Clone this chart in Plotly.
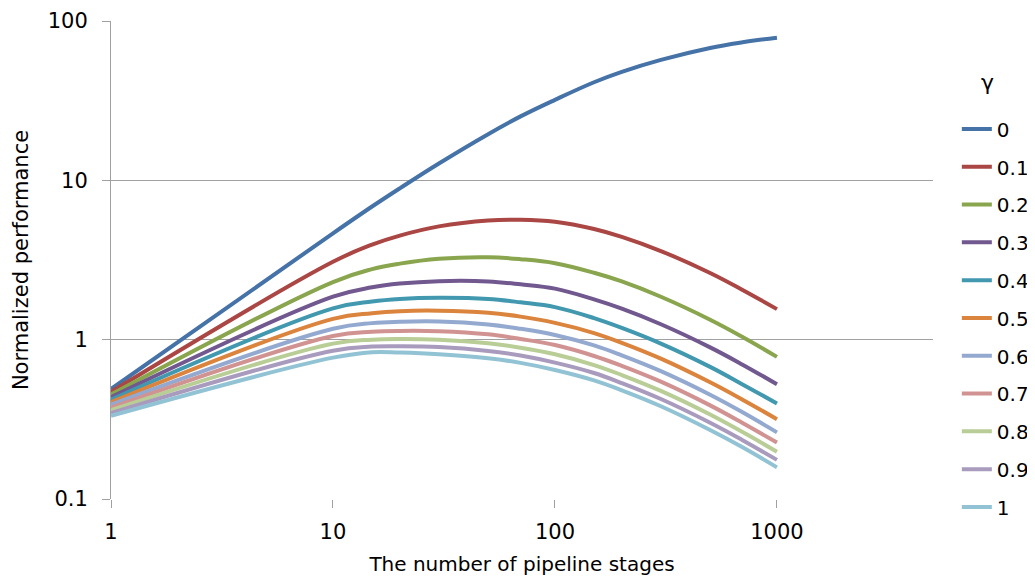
import plotly.graph_objects as go

# Number of pipeline stages (x)
stages = [1, 10, 15, 20, 30, 50, 70, 100, 150, 200, 300, 500, 700, 1000]

# Normalized performance for each gamma
perf_g00 = [0.490, 4.65, 6.85, 8.91, 12.76, 19.49, 25.19, 32.0, 41.27, 47.96, 57.0, 67.75, 73.53, 78.6]
perf_g01 = [0.470, 3.08, 3.95, 4.50, 5.14, 5.60, 5.66, 5.50, 4.95, 4.42, 3.60, 2.62, 2.05, 1.555]
perf_g02 = [0.452, 2.30, 2.77, 3.00, 3.22, 3.29, 3.20, 3.02, 2.63, 2.32, 1.86, 1.335, 1.04, 0.780]
perf_g03 = [0.436, 1.86, 2.13, 2.25, 2.33, 2.32, 2.225, 2.09, 1.79, 1.565, 1.25, 0.895, 0.697, 0.525]
perf_g04 = [0.420, 1.57, 1.735, 1.80, 1.83, 1.80, 1.715, 1.60, 1.365, 1.185, 0.945, 0.675, 0.524, 0.398]
perf_g05 = [0.405, 1.35, 1.465, 1.51, 1.52, 1.475, 1.395, 1.275, 1.10, 0.955, 0.760, 0.540, 0.420, 0.317]
perf_g06 = [0.391, 1.17, 1.27, 1.295, 1.30, 1.245, 1.17, 1.07, 0.92, 0.797, 0.634, 0.451, 0.350, 0.262]
perf_g07 = [0.374, 1.055, 1.12, 1.135, 1.13, 1.08, 1.01, 0.925, 0.79, 0.685, 0.545, 0.387, 0.300, 0.226]
perf_g08 = [0.361, 0.944, 1.00, 1.01, 1.00, 0.95, 0.89, 0.81, 0.693, 0.600, 0.477, 0.339, 0.263, 0.198]
perf_g09 = [0.346, 0.853, 0.905, 0.91, 0.90, 0.85, 0.795, 0.718, 0.618, 0.534, 0.424, 0.301, 0.234, 0.176]
perf_g10 = [0.333, 0.771, 0.835, 0.83, 0.81, 0.765, 0.715, 0.645, 0.555, 0.481, 0.382, 0.271, 0.211, 0.158]

gamma_labels = ["0", "0.1", "0.2", "0.3", "0.4", "0.5", "0.6", "0.7", "0.8", "0.9", "1"]
series = [perf_g00, perf_g01, perf_g02, perf_g03, perf_g04, perf_g05,
          perf_g06, perf_g07, perf_g08, perf_g09, perf_g10]
colors = ["#4572A7", "#AA4643", "#89A54E", "#71588F", "#4198AF", "#DB843D",
          "#93A9CF", "#D09392", "#B9CD96", "#A99BBD", "#92C3D4"]

x_tickvals = [1, 10, 100, 1000]
x_ticktext = ["1", "10", "100", "1000"]
y_tickvals = [0.1, 1, 10, 100]
y_ticktext = ["0.1", "1", "10", "100"]

FONT = "DejaVu Sans"

fig = go.Figure()
for i, (name, vals, col) in enumerate(zip(gamma_labels, series, colors)):
    fig.add_trace(go.Scatter(
        x=stages, y=vals, name=name, mode="lines",
        line=dict(color=col, width=4, shape="spline", smoothing=1.1),
        legendgroup="g%d" % i,
    ))

# the page body has an 8px margin, so the figure is 8px smaller than the window
fig.update_layout(
    width=1027, height=571,
    margin=dict(l=103, r=102, t=13, b=80, autoexpand=False),
    paper_bgcolor="white", plot_bgcolor="white",
    font=dict(family=FONT, size=20, color="#000000"),
    legend=dict(
        x=1.029, xanchor="left", y=0.815, yanchor="top",
        font=dict(family=FONT, size=20, color="#000000"),
        tracegroupgap=8.8,
        bgcolor="rgba(0,0,0,0)",
    ),
    annotations=[dict(
        text="γ", x=1.077, y=0.902, xref="paper", yref="paper",
        showarrow=False, font=dict(family=FONT, size=22, color="#000000"),
    )],
)

fig.update_xaxes(
    type="log", range=[0, 3.703],
    tickvals=x_tickvals, ticktext=x_ticktext,
    showgrid=False, zeroline=False,
    showline=False,
    ticks="outside", ticklen=8, tickcolor="#A0A0A0", tickwidth=1,
    ticklabelstandoff=6,
    tickfont=dict(family=FONT, size=21, color="#000000"),
    title=dict(text="The number of pipeline stages", font=dict(family=FONT, size=20, color="#000000"), standoff=13),
)
fig.update_yaxes(
    type="log", range=[-1, 2],
    tickvals=y_tickvals, ticktext=y_ticktext,
    showgrid=True, gridcolor="#A0A0A0", gridwidth=1,
    zeroline=False,
    showline=True, linecolor="#A0A0A0", linewidth=1,
    ticks="outside", ticklen=8, tickcolor="#A0A0A0", tickwidth=1,
    ticklabelstandoff=10,
    tickfont=dict(family=FONT, size=21, color="#000000"),
    title=dict(text="Normalized performance", font=dict(family=FONT, size=21, color="#000000"), standoff=13),
)

fig.write_html("out.html")
